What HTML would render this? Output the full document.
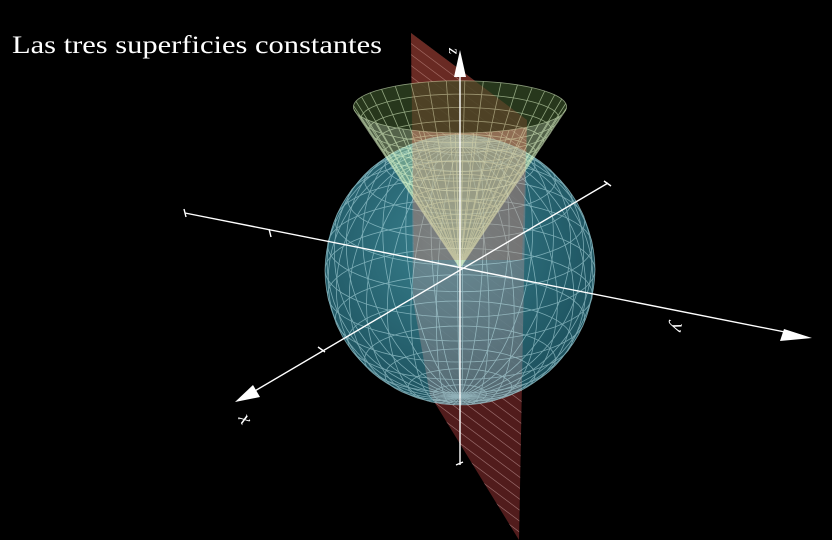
<!DOCTYPE html>
<html><head><meta charset="utf-8"><style>
html,body{margin:0;padding:0;background:#000;width:832px;height:540px;overflow:hidden}
svg{display:block}
</style></head><body>
<svg id="s" width="832" height="540" viewBox="0 0 832 540">
<defs>
<radialGradient id="sg" cx="0.45" cy="0.4" r="0.65">
<stop offset="0" stop-color="#3f8f9e"/><stop offset="1" stop-color="#1d5664"/>
</radialGradient>
<clipPath id="pc"><polygon points="411,33 527,120 519,540 430,395 413,300"/></clipPath>
<clipPath id="sc"><circle cx="460" cy="270" r="135"/></clipPath>
</defs>
<rect width="832" height="540" fill="#000"/>
<g id="plane">
<polygon points="411,33 527,120 519,540 430,395 413,300" fill="#5a1f1f" opacity="0.9"/>
<g id="hatch" clip-path="url(#pc)" stroke="#c9a0a0" stroke-width="0.7" opacity="0.6"></g>
</g>
<circle cx="460" cy="270" r="135" fill="url(#sg)" opacity="0.9"/>
<g clip-path="url(#sc)">
<polygon points="411,33 527,120 519,540 430,395 413,300" fill="#c79a9a" opacity="0.3"/>
</g>
<g id="sphereMesh" fill="none" stroke="#bfe8ee" stroke-width="0.8" opacity="0.55"></g>
<g id="cone"></g>
<polygon points="411,33 527,120 522,260 414,260" fill="#c0603f" opacity="0.22"/>
<g stroke="#fff" stroke-width="1.4" fill="none">
<line x1="185" y1="213" x2="800" y2="335"/>
<line x1="608" y1="183" x2="248" y2="395"/>
<line x1="460" y1="465" x2="460" y2="70"/>
<line x1="184" y1="209" x2="186" y2="217"/><line x1="269" y1="229" x2="271" y2="237"/>
<line x1="604" y1="181" x2="611" y2="186"/><line x1="318" y1="347" x2="325" y2="352"/>
<line x1="456" y1="465" x2="463" y2="462"/>
</g>
<polygon points="812,338 780,341 784,329" fill="#fff"/>
<polygon points="235,402 253,385 260,397" fill="#fff"/>
<polygon points="460,50 454,77 466,77" fill="#fff"/>
<text x="12" y="53" fill="#fff" font-family="Liberation Serif, serif" font-size="25" textLength="370" lengthAdjust="spacingAndGlyphs">Las tres superficies constantes</text>
<text x="0" y="0" transform="translate(238,418) rotate(60)" fill="#fff" font-family="Liberation Serif, serif" font-style="italic" font-size="20">x</text>
<text x="0" y="0" transform="translate(673,322) rotate(100)" fill="#fff" font-family="Liberation Serif, serif" font-style="italic" font-size="20">y</text>
<text x="0" y="0" transform="translate(449,48) rotate(90)" fill="#fff" font-family="Liberation Serif, serif" font-style="italic" font-size="16">z</text>
</svg>
<script>
var NS="http://www.w3.org/2000/svg";
var cx=460,cy=270,R=135,ang=32.6*Math.PI/180,sE=0.35,cE=Math.sqrt(1-sE*sE);
function P(X,Y,Z){return [cx+R*(-Math.sin(ang)*X+Math.cos(ang)*Y),cy+R*((Math.cos(ang)*X+Math.sin(ang)*Y)*sE-Z*cE)];}
function mkpath(g,pts,attrs){var d="M"+pts.map(function(p){return p[0].toFixed(1)+","+p[1].toFixed(1)}).join("L");var e=document.createElementNS(NS,"path");e.setAttribute("d",d);for(var k in attrs)e.setAttribute(k,attrs[k]);g.appendChild(e);return e;}
var sm=document.getElementById("sphereMesh");
for(var i=0;i<32;i++){var ph=i/32*2*Math.PI,pts=[];for(var j=0;j<=40;j++){var t=j/40*Math.PI;pts.push(P(Math.sin(t)*Math.cos(ph),Math.sin(t)*Math.sin(ph),Math.cos(t)));}mkpath(sm,pts,{});}
for(var j=1;j<16;j++){var t=j/16*Math.PI,pts=[];for(var i=0;i<=64;i++){var ph=i/64*2*Math.PI;pts.push(P(Math.sin(t)*Math.cos(ph),Math.sin(t)*Math.sin(ph),Math.cos(t)));}mkpath(sm,pts,{});}
var cg=document.getElementById("cone"),H=1.26,rr=0.79;
var ring=[];for(var i=0;i<=72;i++){var ph=i/72*2*Math.PI;var p=P(rr*Math.cos(ph),rr*Math.sin(ph),H);ring.push([cx+(p[0]-cx),98+(p[1]-98)*0.7]);}
var ccy=0;ring.forEach(function(p){ccy+=p[1];});ccy/=ring.length;
mkpath(cg,ring,{fill:"#2b3d1f",opacity:"0.9"});
var apex=[460,268];
var front=ring.filter(function(p){return p[1]>=ccy-0.01;}).sort(function(p,q){return q[0]-p[0];});
mkpath(cg,[apex].concat(front),{fill:"#c8ecb0",opacity:"0.42"});
var cm=document.createElementNS(NS,"g");cm.setAttribute("stroke","#e8ffd0");cm.setAttribute("stroke-width","0.8");cm.setAttribute("fill","none");cm.setAttribute("opacity","0.55");cg.appendChild(cm);
for(var i=0;i<72;i+=2){mkpath(cm,[apex,ring[i]],{});}
for(var j=1;j<=14;j++){var f=j/14,pts=ring.map(function(p){return [apex[0]+(p[0]-apex[0])*f,apex[1]+(p[1]-apex[1])*f];});mkpath(cm,pts,{});}
var hg=document.getElementById("hatch");
for(var k=0;k<48;k++){var l=document.createElementNS(NS,"line");var y0=-60+k*11;l.setAttribute("x1",405);l.setAttribute("y1",y0);l.setAttribute("x2",530);l.setAttribute("y2",y0+94);hg.appendChild(l);}
</script>
</body></html>
